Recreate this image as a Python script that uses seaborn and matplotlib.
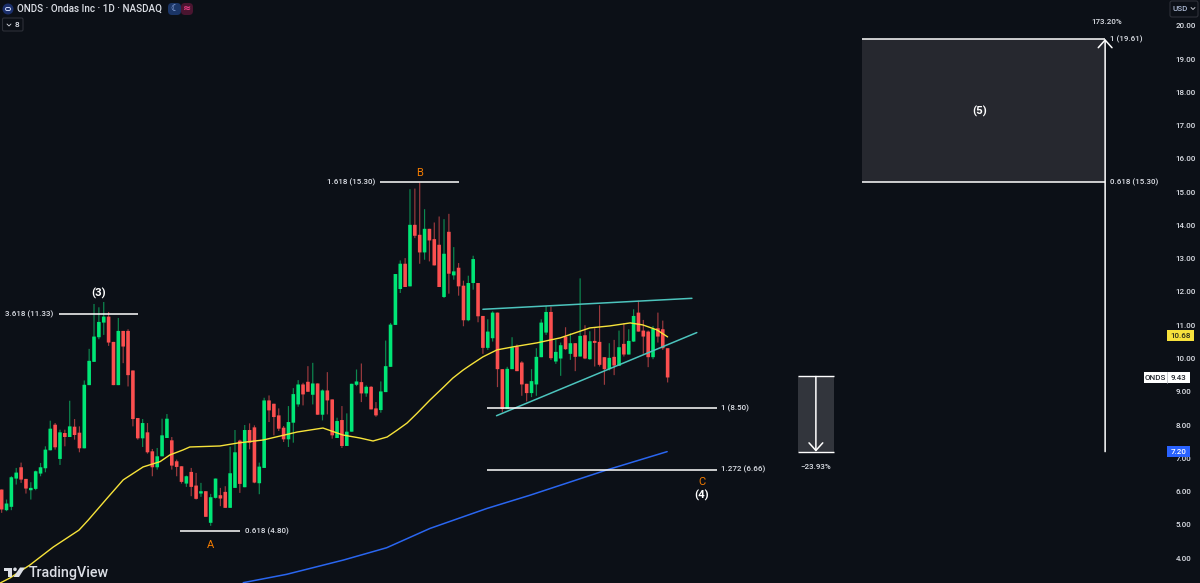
import matplotlib
matplotlib.use('Agg')
import matplotlib.pyplot as plt
from matplotlib.patches import Rectangle, Polygon, Circle, FancyBboxPatch
import seaborn as sns
import pandas as pd

# Daily candles
opens = [6.06, 5.44, 5.54, 6.39, 6.73, 6.38, 6.04, 6.08, 6.54, 6.70, 7.24, 8.01, 6.98, 7.76, 7.64, 7.95, 7.77, 7.30, 9.20, 9.90,
         10.64, 11.08, 11.26, 10.50, 9.20, 10.83, 10.83, 9.64, 8.21, 7.60, 7.78, 7.21, 6.73, 7.06, 7.61, 7.54, 6.91, 6.76, 6.24, 6.59,
         6.18, 5.94, 6.01, 5.06, 5.81, 5.89, 5.99, 5.51, 6.11, 7.53, 6.13, 7.85, 7.93, 6.25, 6.71, 8.74, 8.64, 8.29, 7.92, 7.57,
         8.07, 8.62, 9.22, 9.30, 8.91, 9.25, 8.31, 9.04, 8.77, 7.61, 8.15, 7.37, 7.80, 9.21, 9.29, 8.95, 9.15, 8.50, 8.45, 8.99,
         9.75, 11.01, 12.09, 12.85, 12.17, 14.02, 13.72, 13.19, 13.90, 13.59, 13.42, 11.85, 13.81, 12.50, 12.73, 12.19, 11.15, 12.27, 12.27, 11.28,
         10.32, 10.61, 11.38, 9.68, 8.48, 9.68, 10.36, 9.88, 9.24, 8.96, 9.22, 10.04, 10.78, 11.40, 9.91, 10.00, 10.66, 10.14, 10.46, 10.06,
         10.70, 9.98, 10.53, 10.50, 10.04, 9.68, 10.05, 9.78, 10.44, 10.12, 10.51, 11.38, 10.84, 10.81, 10.04, 10.91, 10.88, 10.31]
closes = [5.46, 5.64, 6.43, 6.57, 6.36, 6.09, 6.11, 6.61, 6.73, 7.26, 7.89, 7.33, 7.78, 7.64, 7.96, 7.70, 7.30, 9.21, 9.93, 10.66,
          11.10, 11.26, 10.48, 9.20, 10.83, 10.36, 9.50, 8.18, 7.60, 8.06, 7.18, 6.73, 7.06, 7.69, 8.19, 6.78, 6.74, 6.29, 6.46, 6.14,
          5.78, 6.01, 5.24, 5.83, 6.39, 5.79, 5.51, 6.55, 7.18, 6.23, 7.85, 7.47, 6.27, 6.75, 8.74, 8.44, 8.24, 7.89, 7.57, 8.09,
          8.93, 9.22, 8.92, 9.00, 9.25, 8.31, 9.04, 8.74, 7.69, 8.12, 7.37, 7.80, 9.24, 9.31, 8.95, 9.15, 8.47, 8.29, 9.01, 9.77,
          11.02, 12.54, 12.85, 12.15, 14.02, 13.69, 13.19, 13.90, 13.55, 12.80, 12.15, 13.15, 12.55, 12.62, 12.17, 11.15, 12.27, 12.99, 11.27, 10.32,
          10.81, 11.38, 9.68, 8.48, 9.69, 10.34, 9.62, 9.22, 8.96, 9.32, 10.05, 11.08, 11.40, 10.01, 10.20, 10.40, 10.28, 10.46, 10.05, 10.68,
          10.00, 10.52, 10.47, 9.81, 9.68, 10.02, 9.79, 10.34, 10.12, 10.53, 11.28, 10.81, 10.66, 10.04, 10.89, 10.66, 10.31, 9.43]
highs = [6.06, 5.76, 6.46, 6.71, 6.87, 6.38, 6.28, 6.63, 6.86, 7.36, 8.13, 8.06, 7.86, 7.86, 8.73, 8.18, 7.96, 9.34, 10.29, 11.64,
         11.54, 11.70, 11.40, 10.50, 11.22, 10.83, 10.88, 9.64, 8.21, 8.18, 8.06, 7.28, 7.31, 8.19, 8.33, 7.64, 6.96, 6.76, 6.48, 6.71,
         6.56, 6.26, 6.01, 5.93, 6.39, 6.11, 6.16, 7.35, 7.85, 7.56, 8.00, 8.05, 7.99, 6.87, 8.82, 8.89, 8.64, 8.50, 7.97, 8.57,
         9.11, 9.35, 9.27, 9.77, 9.87, 9.25, 9.07, 9.59, 8.77, 8.22, 8.57, 8.35, 9.24, 9.67, 9.85, 9.19, 9.17, 8.69, 9.31, 10.54,
         11.07, 12.54, 12.95, 13.02, 15.09, 15.11, 15.29, 14.49, 13.90, 14.09, 14.27, 14.19, 14.35, 13.35, 12.87, 12.34, 12.49, 13.09, 12.27, 11.28,
         11.18, 11.42, 11.38, 9.68, 9.75, 10.64, 10.42, 9.92, 9.24, 9.68, 10.31, 11.18, 11.58, 11.56, 10.56, 10.48, 10.94, 10.76, 10.46, 12.41,
         11.00, 10.82, 10.91, 11.60, 10.04, 10.46, 10.56, 10.84, 11.06, 10.88, 11.48, 11.74, 11.16, 10.84, 10.98, 11.38, 11.14, 10.31]
lows = [5.36, 5.41, 5.44, 6.21, 6.26, 5.94, 5.76, 6.04, 6.46, 6.58, 7.24, 7.26, 6.80, 7.36, 7.64, 7.56, 7.18, 7.30, 9.20, 9.90,
        10.58, 10.71, 10.38, 9.20, 9.20, 9.86, 9.16, 7.96, 7.56, 7.34, 7.14, 6.46, 6.66, 7.06, 7.61, 6.66, 6.46, 6.24, 6.14, 5.86,
        5.76, 5.84, 5.24, 4.97, 5.79, 5.56, 5.51, 5.51, 6.11, 5.96, 6.13, 7.27, 6.25, 5.92, 6.71, 8.09, 7.69, 7.82, 7.49, 7.34,
        7.47, 8.55, 8.59, 9.00, 8.62, 8.31, 8.14, 8.32, 7.59, 7.61, 7.31, 7.37, 7.80, 9.17, 8.69, 8.85, 8.47, 8.25, 8.37, 8.99,
        9.75, 11.01, 11.97, 12.15, 12.17, 13.62, 12.85, 12.97, 12.92, 12.80, 12.15, 11.82, 11.95, 12.37, 11.89, 10.97, 11.12, 12.07, 11.09, 10.14,
        10.26, 10.51, 9.14, 8.38, 8.48, 9.68, 9.62, 8.88, 8.71, 8.84, 8.88, 10.04, 10.71, 9.96, 9.84, 9.48, 10.26, 9.96, 9.62, 10.06,
        9.98, 9.96, 9.76, 9.76, 9.21, 9.64, 9.50, 9.78, 10.06, 10.12, 10.50, 10.81, 10.14, 9.74, 9.98, 10.48, 10.26, 9.28]

# Moving averages (bar index, price)
ma_fast_x = [-0.3, 1.7, 5.8, 10.6, 15.9, 17.8, 21.7, 25, 29.1, 32.6, 34.6, 37.3, 38.7, 44.9, 48.6, 53.8, 60.8, 66.1, 70.2, 73.7, 76.4, 79.3,
             81.3, 83.4, 85.5, 88.1, 90.9, 92.8, 94.9, 96.4, 99, 101.9, 105.2, 110.1, 114.9, 121, 125.1, 129.3, 131.9, 134.8, 137]
ma_fast_y = [3.25, 3.40, 3.79, 4.33, 4.84, 5.14, 5.80, 6.35, 6.74, 6.90, 7.10, 7.25, 7.34, 7.37, 7.46, 7.55, 7.79, 7.91, 7.70, 7.61, 7.52, 7.64,
             7.84, 8.06, 8.36, 8.75, 9.14, 9.41, 9.65, 9.80, 10.05, 10.26, 10.35, 10.47, 10.62, 10.92, 10.98, 11.07, 11.01, 10.86, 10.65]
ma_slow_x = [49.7, 58.6, 70.3, 79.2, 88.1, 99.8, 108.7, 124.5, 136.9]
ma_slow_y = [3.26, 3.51, 3.94, 4.31, 4.89, 5.49, 5.89, 6.65, 7.20]

# Wedge trendlines
wedge_top_x = [99, 142]
wedge_top_y = [11.48, 11.81]
wedge_low_x = [101.8, 143]
wedge_low_y = [8.28, 10.78]

# Fib levels: start bar, end bar, price
fib_starts = [11.8, 77.8, 36.7, 99.8, 99.8]
fib_ends = [28.05, 94.1, 49, 147.2, 147.2]
fib_prices = [11.33, 15.30, 4.80, 8.50, 6.66]

target_left, target_right = 176.9, 227
target_low, target_high = 15.30, 19.61
target_base = 7.20
short_left, short_right = 163.8, 171.2
short_top, short_bottom = 9.46, 7.20

price_ticks = list(range(4, 21))

BG = '#0c1017'
GREEN = '#00e676'
RED = '#fb4f4f'
GREEN_WICK = '#0d8a50'
RED_WICK = '#9c3a3e'
TEXT = '#dcdfe6'

sns.set_theme(style='dark', rc={'axes.facecolor': BG, 'figure.facecolor': BG})
plt.rcParams['font.family'] = ['Roboto', 'DejaVu Sans']

fig = plt.figure(figsize=(12, 5.83), dpi=100)
ax = fig.add_axes([0, 0, 1162 / 1200, 1])
ax.set_xlim(-0.34, 238.7)
ax.set_ylim(3.25, 20.78)
for s in ax.spines.values():
    s.set_visible(False)
ax.grid(False)
ax.xaxis.set_visible(False)
ax.yaxis.tick_right()
ax.set_yticks(price_ticks)
ax.set_yticklabels([f'{p:.2f}' for p in price_ticks], color=TEXT, fontsize=5.8, fontweight='medium')
ax.tick_params(axis='y', length=0, pad=10)

df = pd.DataFrame({'open': opens, 'close': closes, 'high': highs, 'low': lows})
df['bar'] = df.index
df['up'] = df['close'] >= df['open']

# Wicks first, bodies on top
wicks = ax.vlines(df['bar'], df['low'], df['high'], colors=df['up'].map({True: GREEN_WICK, False: RED_WICK}), lw=0.85, zorder=2)
wicks.set_snap(False)
bodies = ax.bar(df['bar'], (df['close'] - df['open']).abs(), bottom=df[['open', 'close']].min(axis=1), width=0.74,
                color=df['up'].map({True: GREEN, False: RED}), linewidth=0, zorder=3)
for b in bodies:
    b.set_snap(False)

sns.lineplot(x=ma_fast_x, y=ma_fast_y, color='#f7e33a', lw=1.0, ax=ax, zorder=4, sort=False, errorbar=None)
sns.lineplot(x=ma_slow_x, y=ma_slow_y, color='#2a66f0', lw=1.1, ax=ax, zorder=4, sort=False, errorbar=None)
sns.lineplot(x=wedge_top_x, y=wedge_top_y, color='#4cc4bd', lw=1.1, ax=ax, zorder=5, errorbar=None)
sns.lineplot(x=wedge_low_x, y=wedge_low_y, color='#4cc4bd', lw=1.1, ax=ax, zorder=5, errorbar=None)

ax.hlines(fib_prices, fib_starts, fib_ends, colors='white', lw=1.1, zorder=6)

# Target box and measuring arrows
ax.add_patch(Rectangle((target_left, target_low), target_right - target_left, target_high - target_low,
                       facecolor='#26282f', edgecolor='none', zorder=1))
ax.hlines([target_low, target_high], target_left, target_right, colors='white', lw=1.1, zorder=6)
ax.add_patch(Rectangle((short_left, short_bottom), short_right - short_left, short_top - short_bottom,
                       facecolor='#32353c', edgecolor='none', zorder=1))
ax.hlines([short_top, short_bottom], short_left, short_right, colors='white', lw=1.0, zorder=6)
head = dict(arrowstyle='->,head_width=0.45,head_length=0.5', color='white', lw=1.1, shrinkA=0, shrinkB=0, mutation_scale=11)
ax.annotate('', xy=(target_right, target_high), xytext=(target_right, target_base), arrowprops=head, zorder=7)
ax.annotate('', xy=((short_left + short_right) / 2, short_bottom), xytext=((short_left + short_right) / 2, short_top),
            arrowprops=head, zorder=7)

# Labels next to the drawings
lab = dict(color=TEXT, fontsize=5.8, fontweight='medium', va='center', zorder=8)
ax.text(10.6, 11.33, '3.618 (11.33)', ha='right', **lab)
ax.text(76.8, 15.30, '1.618 (15.30)', ha='right', **lab)
ax.text(50.1, 4.80, '0.618 (4.80)', ha='left', **lab)
ax.text(148, 8.50, '1 (8.50)', ha='left', **lab)
ax.text(148, 6.66, '1.272 (6.66)', ha='left', **lab)
ax.text(228, 19.61, '1 (19.61)', ha='left', **lab)
ax.text(228, 15.30, '0.618 (15.30)', ha='left', **lab)
ax.text(227.3, 20.11, '173.20%', ha='center', **lab)
ax.text(167.5, 6.75, '\u221223.93%', ha='center', **lab)

wave = dict(color='white', fontsize=8.2, fontweight='bold', ha='center', va='center', zorder=8)
ax.text(20, 11.95, '(3)', **wave)
ax.text(144, 5.90, '(4)', **wave)
ax.text(201.2, 17.44, '(5)', **wave)
abc = dict(color='#f57c00', fontsize=8, ha='center', va='center', zorder=8)
ax.text(86, 15.58, 'B', **abc)
ax.text(43, 4.40, 'A', **abc)
ax.text(144, 6.30, 'C', **abc)

# Chart chrome in pixel coordinates
ui = fig.add_axes([0, 0, 1, 1], facecolor='none')
ui.set_xlim(0, 1200)
ui.set_ylim(583, 0)
ui.axis('off')


def price_y(p):
    return 26 + (20 - p) * 33.25


ui.add_patch(Circle((8, 9), 5.5, facecolor='#1b2f6b', edgecolor='none'))
ui.add_patch(FancyBboxPatch((5.5, 7.5), 5, 3, boxstyle='round,pad=0,rounding_size=1.5', facecolor='none', edgecolor='#c9d4f5', lw=0.7))
ui.text(17, 9, 'ONDS \u00b7 Ondas Inc \u00b7 1D \u00b7 NASDAQ', color=TEXT, fontsize=7.15, fontweight='medium', va='center')
ui.add_patch(FancyBboxPatch((168, 3), 13, 12, boxstyle='round,pad=0,rounding_size=4', facecolor='#1b3566', edgecolor='none'))
ui.add_patch(FancyBboxPatch((181, 3), 12, 12, boxstyle='round,pad=0,rounding_size=4', facecolor='#4a1530', edgecolor='none'))
ui.text(174.5, 8.6, '\u263e', color='#a8c4ff', fontsize=6.5, ha='center', va='center', family=['DejaVu Sans'])
ui.text(187, 8.6, '\u2248', color='#f23f8a', fontsize=7, ha='center', va='center', family=['DejaVu Sans'], fontweight='bold')
ui.add_patch(FancyBboxPatch((2.5, 18), 20.5, 13, boxstyle='round,pad=0,rounding_size=1.5', facecolor='none', edgecolor='#2d3038', lw=0.8))
ui.plot([7, 9, 11], [24, 26, 24], color=TEXT, lw=0.6)
ui.text(17, 24.8, '8', color=TEXT, fontsize=6, fontweight='medium', ha='center', va='center')

ui.add_patch(FancyBboxPatch((1170, 1), 28, 16, boxstyle='round,pad=0,rounding_size=2', facecolor=BG, edgecolor='#2d3038', lw=0.8))
ui.text(1172.5, 8.6, 'USD', color='#aebbd6', fontsize=5.8, fontweight='medium', va='center')
ui.plot([1191, 1193, 1195], [7.5, 9.5, 7.5], color=TEXT, lw=0.6)

# Price tags on the scale
tag = dict(fontsize=5.8, fontweight='medium', ha='center', va='center')
ui.add_patch(Rectangle((1167, price_y(10.68) - 5.5), 27, 11, facecolor='#f7e13c', edgecolor='none'))
ui.text(1180.5, price_y(10.68) + 0.3, '10.68', color='#2b2b1a', **tag)
ui.add_patch(Rectangle((1167, price_y(7.20) - 5.5), 23, 11, facecolor='#2962ff', edgecolor='none'))
ui.text(1178.5, price_y(7.20) + 0.3, '7.20', color='white', **tag)
ui.add_patch(Rectangle((1144, price_y(9.43) - 5.5), 46, 11, facecolor='white', edgecolor='none'))
ui.plot([1167, 1167], [price_y(9.43) - 5.5, price_y(9.43) + 5.5], color='#b0b3ba', lw=0.5)
ui.text(1155.5, price_y(9.43) + 0.3, 'ONDS', color='#23262e', **tag)
ui.text(1178.5, price_y(9.43) + 0.3, '9.43', color='#23262e', **tag)

# TradingView logo
ui.add_patch(Polygon([(4, 567.5), (12, 567.5), (12, 577), (8, 577), (8, 571), (4, 571)], facecolor=TEXT, edgecolor='none'))
ui.add_patch(Circle((15, 569.3), 1.8, facecolor=TEXT, edgecolor='none'))
ui.add_patch(Polygon([(20, 567.5), (25, 567.5), (19, 577), (13.5, 577)], facecolor=TEXT, edgecolor='none'))
ui.text(29, 572.5, 'TradingView', color=TEXT, fontsize=10.3, fontweight='medium', va='center')

fig.savefig('out.png', dpi=100, facecolor=BG)
plt.close(fig)
